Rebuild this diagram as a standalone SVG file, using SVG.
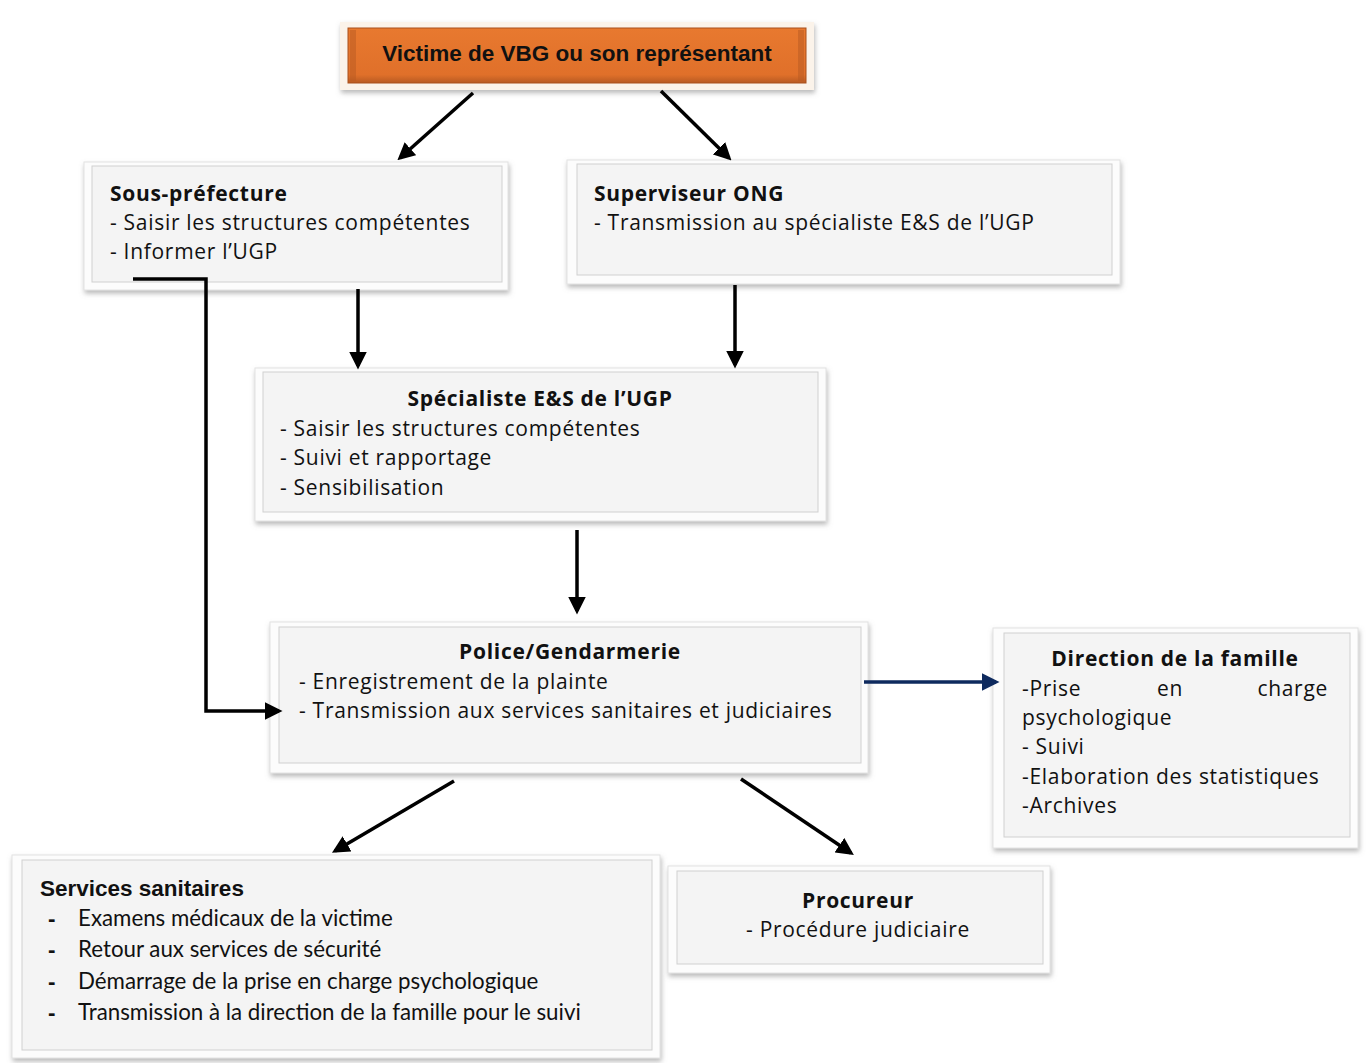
<svg xmlns="http://www.w3.org/2000/svg" width="1370" height="1063" viewBox="0 0 1370 1063">
<defs>
  <filter id="sh" x="-5%" y="-10%" width="110%" height="125%">
    <feDropShadow dx="1" dy="3" stdDeviation="2.5" flood-color="#8a8a8a" flood-opacity="0.6"/>
  </filter>
  <filter id="bl" x="-5%" y="-50%" width="110%" height="200%">
    <feGaussianBlur stdDeviation="1"/>
  </filter>
  <linearGradient id="og" x1="0" y1="0" x2="0" y2="1">
    <stop offset="0" stop-color="#e8792f"/>
    <stop offset="0.85" stop-color="#e0702a"/>
    <stop offset="1" stop-color="#b85a22"/>
  </linearGradient>
  <marker id="ah" viewBox="0 0 10 10" refX="8" refY="5" markerWidth="5" markerHeight="5" orient="auto" markerUnits="strokeWidth">
    <path d="M0,0 L10,5 L0,10 Z" fill="#000"/>
  </marker>
  <marker id="ahn" viewBox="0 0 10 10" refX="8" refY="5" markerWidth="5" markerHeight="5" orient="auto" markerUnits="strokeWidth">
    <path d="M0,0 L10,5 L0,10 Z" fill="#0e2a5e"/>
  </marker>
</defs>
<style>
  .outer { fill: #fcfcfc; stroke: #e2e2e2; stroke-width: 1; filter: url(#sh); }
  .inner { fill: #f4f4f4; stroke: #d0d0d0; stroke-width: 1; }
  .edge { stroke: #9a9a9a; stroke-width: 3; filter: url(#bl); }
  .t { font-family: "Open Sans", "Noto Sans", sans-serif; font-size: 21px; letter-spacing: 0.7px; fill: #111; }
  .tb { font-family: "Open Sans", "Noto Sans", sans-serif; font-size: 21px; letter-spacing: 0.7px; font-weight: bold; fill: #111; }
  .c { font-family: Lato, "Liberation Sans", sans-serif; font-size: 22.3px; fill: #111; }
  .ab { font-family: "Liberation Sans", Arial, sans-serif; font-size: 22.5px; font-weight: bold; fill: #111; }
  .mid { text-anchor: middle; }
  .con { stroke: #000; stroke-width: 3.5; fill: none; }
</style>

<g id="victime">
  <rect x="340" y="22" width="474" height="68" fill="#fbf3ea" filter="url(#sh)"/>
  <rect x="348" y="28" width="458" height="55" fill="url(#og)" stroke="#a9501c" stroke-width="1"/>
  <rect x="350" y="30" width="6" height="51" fill="#b85a22" opacity="0.5"/>
  <rect x="798" y="30" width="6" height="51" fill="#b85a22" opacity="0.5"/>
  <text class="ab mid" x="577" y="61">Victime de VBG ou son représentant</text>
</g>

<g id="sous-prefecture">
  <rect class="outer" x="84" y="162" width="424" height="128"/>
  <rect class="inner" x="92" y="166" width="410" height="116"/>
  <line class="edge" x1="93" y1="282" x2="501" y2="282"/>
  <text class="tb" x="110" y="201">Sous-préfecture</text>
  <text class="t" x="110" y="230">- Saisir les structures compétentes</text>
  <text class="t" x="110" y="259">- Informer l’UGP</text>
</g>

<g id="superviseur-ong">
  <rect class="outer" x="567" y="160" width="553" height="124"/>
  <rect class="inner" x="577" y="164" width="535" height="111"/>
  <line class="edge" x1="578" y1="275" x2="1111" y2="275"/>
  <text class="tb" x="594" y="201">Superviseur ONG</text>
  <text class="t" x="594" y="230">- Transmission au spécialiste E&amp;S de l’UGP</text>
</g>

<g id="specialiste">
  <rect class="outer" x="255" y="368" width="571" height="153"/>
  <rect class="inner" x="263" y="372" width="555" height="140"/>
  <line class="edge" x1="264" y1="512" x2="817" y2="512"/>
  <text class="tb mid" x="540" y="406">Spécialiste E&amp;S de l’UGP</text>
  <text class="t" x="280" y="436">- Saisir les structures compétentes</text>
  <text class="t" x="280" y="465">- Suivi et rapportage</text>
  <text class="t" x="280" y="495">- Sensibilisation</text>
</g>

<g id="police">
  <rect class="outer" x="270" y="622" width="598" height="151"/>
  <rect class="inner" x="279" y="627" width="582" height="136"/>
  <line class="edge" x1="280" y1="763" x2="860" y2="763"/>
  <text class="tb mid" x="570" y="659">Police/Gendarmerie</text>
  <text class="t" x="299" y="689">- Enregistrement de la plainte</text>
  <text class="t" x="299" y="718">- Transmission aux services sanitaires et judiciaires</text>
</g>

<g id="direction-famille">
  <rect class="outer" x="993" y="628" width="365" height="220"/>
  <rect class="inner" x="1004" y="633" width="346" height="204"/>
  <line class="edge" x1="1005" y1="837" x2="1349" y2="837"/>
  <text class="tb mid" x="1175" y="666">Direction de la famille</text>
  <text class="t" x="1022" y="696">-Prise</text>
  <text class="t" x="1157" y="696">en</text>
  <text class="t" x="1328" y="696" text-anchor="end">charge</text>
  <text class="t" x="1022" y="725">psychologique</text>
  <text class="t" x="1022" y="754">- Suivi</text>
  <text class="t" x="1022" y="784">-Elaboration des statistiques</text>
  <text class="t" x="1022" y="813">-Archives</text>
</g>

<g id="services-sanitaires">
  <rect class="outer" x="12" y="855" width="648" height="203"/>
  <rect class="inner" x="22" y="860" width="630" height="190"/>
  <line class="edge" x1="23" y1="1050" x2="651" y2="1050"/>
  <text class="ab" x="40" y="896">Services sanitaires</text>
  <text class="ab" x="48" y="926">-</text>
  <text class="c" x="78" y="926">Examens médicaux de la victime</text>
  <text class="ab" x="48" y="957">-</text>
  <text class="c" x="78" y="957">Retour aux services de sécurité</text>
  <text class="ab" x="48" y="989">-</text>
  <text class="c" x="78" y="989">Démarrage de la prise en charge psychologique</text>
  <text class="ab" x="48" y="1020">-</text>
  <text class="c" x="78" y="1020">Transmission à la direction de la famille pour le suivi</text>
</g>

<g id="procureur">
  <rect class="outer" x="668" y="866" width="382" height="107"/>
  <rect class="inner" x="677" y="871" width="366" height="93"/>
  <line class="edge" x1="678" y1="964" x2="1042" y2="964"/>
  <text class="tb mid" x="858" y="908">Procureur</text>
  <text class="t mid" x="858" y="937">- Procédure judiciaire</text>
</g>

<g id="connectors">
  <line class="con" x1="473" y1="93" x2="400" y2="158" marker-end="url(#ah)"/>
  <line class="con" x1="661" y1="91" x2="729" y2="158" marker-end="url(#ah)"/>
  <line class="con" x1="358" y1="289" x2="358" y2="366" marker-end="url(#ah)"/>
  <line class="con" x1="735" y1="285" x2="735" y2="365" marker-end="url(#ah)"/>
  <line class="con" x1="577" y1="530" x2="577" y2="611" marker-end="url(#ah)"/>
  <polyline class="con" points="133,279 206,279 206,711 279,711" marker-end="url(#ah)"/>
  <line x1="864" y1="682" x2="996" y2="682" stroke="#0e2a5e" stroke-width="3.5" marker-end="url(#ahn)"/>
  <line class="con" x1="454" y1="781" x2="335" y2="851" marker-end="url(#ah)"/>
  <line class="con" x1="741" y1="779" x2="851" y2="853" marker-end="url(#ah)"/>
</g>
</svg>
